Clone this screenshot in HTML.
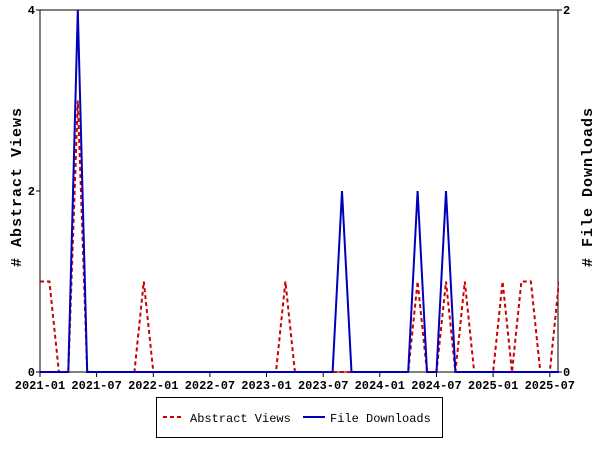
<!DOCTYPE html>
<html><head><style>body{margin:0;background:#fff}svg{display:block}text{font-family:"Liberation Mono","DejaVu Sans Mono",monospace;font-size:12px;font-weight:bold;fill:#000}</style></head><body>
<svg width="600" height="450" viewBox="0 0 600 450" xmlns="http://www.w3.org/2000/svg">
<defs><clipPath id="c"><rect x="40" y="9" width="519" height="364"/></clipPath></defs>
<rect x="40" y="10" width="518" height="362" fill="none" stroke="#000" stroke-width="1"/>
<g stroke="#000" stroke-width="1">
<line x1="36" y1="10" x2="40" y2="10"/><line x1="36" y1="191" x2="40" y2="191"/><line x1="36" y1="372" x2="40" y2="372"/>
<line x1="558" y1="10" x2="562" y2="10"/><line x1="558" y1="372" x2="562" y2="372"/>
<line x1="40" y1="372" x2="40" y2="377"/><line x1="96.6" y1="372" x2="96.6" y2="377"/><line x1="153.3" y1="372" x2="153.3" y2="377"/><line x1="209.9" y1="372" x2="209.9" y2="377"/><line x1="266.5" y1="372" x2="266.5" y2="377"/><line x1="323.2" y1="372" x2="323.2" y2="377"/><line x1="379.8" y1="372" x2="379.8" y2="377"/><line x1="436.5" y1="372" x2="436.5" y2="377"/><line x1="493.1" y1="372" x2="493.1" y2="377"/><line x1="549.8" y1="372" x2="549.8" y2="377"/>
</g>
<g text-anchor="end"><text x="35" y="14">4</text><text x="35" y="195">2</text><text x="35" y="376">0</text></g>
<text x="563" y="14">2</text><text x="563" y="376">0</text>
<g text-anchor="middle">
<text x="40" y="389">2021-01</text><text x="96.6" y="389">2021-07</text><text x="153.3" y="389">2022-01</text><text x="209.9" y="389">2022-07</text><text x="266.5" y="389">2023-01</text><text x="323.2" y="389">2023-07</text><text x="379.8" y="389">2024-01</text><text x="436.5" y="389">2024-07</text><text x="493.1" y="389">2025-01</text><text x="549.8" y="389">2025-07</text>
</g>
<text transform="translate(21,187) rotate(-90)" text-anchor="middle" style="font-size:15px;letter-spacing:1px">#  Abstract Views</text>
<text transform="translate(592,187) rotate(-90)" text-anchor="middle" style="font-size:15px;letter-spacing:1px">#  File Downloads</text>
<g clip-path="url(#c)" fill="none" stroke-width="2">
<polyline stroke="#cc0000" stroke-dasharray="4,3" points="40,281.5 49.4,281.5 58.9,372 68.3,372 77.8,100.5 87.2,372 134.4,372 143.8,281.5 153.3,372 276,372 285.4,281.5 294.9,372 408.2,372 417.6,281.5 427,372 436.5,372 446,281.5 455.4,372 464.8,281.5 474.2,372 493.1,372 502.6,281.5 512,372 521.4,281.5 530.9,281.5 540.3,372 549.8,372 559,281.5"/>
<polyline stroke="#0000bb" points="40,372 68.3,372 77.8,10 87.2,372 332.6,372 342,191 351.5,372 408.2,372 417.6,191 427,372 436.5,372 446,191 455.4,372 559,372"/>
</g>
<rect x="156.5" y="397.5" width="286" height="40" fill="none" stroke="#000"/>
<line x1="163" y1="417" x2="183" y2="417" stroke="#cc0000" stroke-width="2" stroke-dasharray="4,3"/>
<text x="190" y="422" style="font-weight:normal">Abstract Views</text>
<line x1="303" y1="417" x2="325" y2="417" stroke="#0000bb" stroke-width="2"/>
<text x="330" y="422" style="font-weight:normal">File Downloads</text>
</svg>
</body></html>
